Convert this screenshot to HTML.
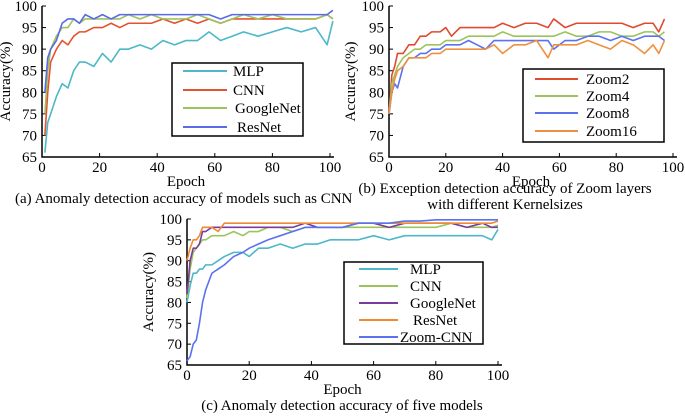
<!DOCTYPE html>
<html><head><meta charset="utf-8"><style>
html,body{margin:0;padding:0;background:#fff;}
svg{display:block;font-family:"Liberation Serif",serif;}
</style></head><body>
<svg id="fig" width="685" height="416" viewBox="0 0 685 416" xmlns="http://www.w3.org/2000/svg"></svg>
<script>
// ---------- Chart (a) data ----------
const aEpochs=[1,2,3,5,7,9,11,13,15,18,21,24,27,30,34,38,42,46,50,54,58,62,66,70,75,80,85,90,95,99,101];
const aMLP=[66,73,75,79,82,81,85,87,87,86,89,87,90,90,91,90,92,91,92,92,94,92,93,94,93,94,95,94,95,91,96.5];
const aCNN=[70,80,87,90,92,91,93,94,94,95,95,96,95,96,96,96,97,96,97,96,97,96,97,97,97,97,97,97,97,98,97];
const aGoogle=[75,85,90,93,95,95,97,96,97,97,97,97,97,98,97,98,97,97,97,98,97,96,97,98,97,98,97,97,97,98,97];
const aRes=[80,88,90,92,96,97,97,96,98,97,98,97,98,98,98,98,98,98,98,98,98,97,98,98,98,98,98,98,98,98,99];
// ---------- Chart (b) data ----------
const bEpochs=[0,1,2,3,5,7,9,11,13,15,18,20,22,25,28,31,34,37,40,44,48,52,56,58,62,66,70,74,78,82,86,90,93,95,97];
const bZoom2=[75,84,86,89,89,91,91,93,93,94,94,95,93,95,95,95,95,95,96,95,96,96,95,97,95,96,96,96,96,96,95,96,96,94,97];
const bZoom4=[75,82,84,86,88,89,90,90,91,91,91,92,92,92,93,93,93,93,94,93,93,93,93,93,94,93,93,94,94,93,93,94,94,93,94];
const bZoom8=[75,80,82,81,86,88,88,89,89,90,90,91,91,91,92,91,90,92,92,92,92,92,92,90,92,92,93,93,92,93,92,93,93,93,92];
const bZoom16=[75,80,83,85,86,88,88,88,88,89,89,90,90,90,90,90,90,91,89,91,91,92,88,91,91,91,92,91,90,92,91,89,91,89,92];
// ---------- Chart (c) data ----------
const cEpochs=[0,1,2,3,4,5,6,8,10,12,15,18,20,23,26,30,34,38,42,46,50,55,60,65,70,75,80,85,90,95,98,100];
const cMLP=[80,84,87,87,88,88,89,89,90,91,92,92,91,93,93,94,93,94,94,95,95,95,96,95,96,96,96,96,96,96,95,97.5];
const cCNN=[81,88,92,93,94,95,95,96,96,96,97,96,97,97,98,98,97,98,98,98,98,98,98,98,98,98,98,99,98,98,98,98.5];
const cGoogle=[82,90,93,93,94,97,97,98,98,98,98,98,98,98,98,98,98,99,98,98,98,99,99,98,99,99,99,99,98,99,98,98];
const cRes=[90,93,95,95,96,98,98,98,97,99,99,99,99,99,99,99,99,99,99,99,99,99,99,99,99,99,99,99,99,99,99,99.5];
const cZoom=[66,67,70,71,75,80,83,87,88,89,91,92,93,94,95,96,97,98,98,98,98,99,99,99,99.5,99.5,99.8,99.8,99.8,99.8,99.8,99.8];
const xTicks=[0,20,40,60,80,100];
const yTicks=[65,70,75,80,85,90,95,100];

const NS="http://www.w3.org/2000/svg";
const svg=document.getElementById('fig');
function mk(tag,attrs,parent){const e=document.createElementNS(NS,tag);for(const k in attrs)e.setAttribute(k,attrs[k]);(parent||svg).appendChild(e);return e;}

function chart(id,box,series,legend){
  const g=mk('g',{});
  
  
  const xs=v=>box.l+(v/100)*(box.r-box.l);
  const ys=v=>box.b-(v-65)/35*(box.b-box.t);
  // axes
  const ax=mk('path',{d:`M${box.l},${box.t}V${box.b}H${box.r+4}`,stroke:'#000','stroke-width':1.5,fill:'none'},g);
  
  
  yTicks.forEach(t=>{
    mk('line',{x1:box.l,x2:box.l+4,y1:ys(t),y2:ys(t),stroke:'#000'},g);
    const tx=mk('text',{x:box.l-5,y:ys(t)+5,'text-anchor':'end','font-size':15},g);
    tx.textContent=t;
    
    
  });
  xTicks.forEach(t=>{
    mk('line',{x1:xs(t),x2:xs(t),y1:box.b,y2:box.b-4,stroke:'#000'},g);
    const tx=mk('text',{x:xs(t),y:box.b+15,'text-anchor':'middle','font-size':15},g);
    tx.textContent=t;
    
    
  });
  const xl=mk('text',{x:(box.l+box.r)/2,y:box.b+29,'text-anchor':'middle','font-size':15},g);
  xl.textContent='Epoch';
  
  
  const yc=(box.t+box.b)/2;
  const yl=mk('text',{x:box.yl,y:yc,'text-anchor':'middle','font-size':15,transform:`rotate(-90 ${box.yl} ${yc})`},g);
  yl.textContent='Accuracy(%)';
  
  
  series.forEach(s=>{
    const p=mk('polyline',{points:s.x.map((v,i)=>xs(v)+','+ys(s.y[i])).join(' '),fill:'none',stroke:s.c,'stroke-width':1.6,'stroke-linejoin':'round'},g);
    
    
  });
  // legend
  const lb=mk('rect',{x:legend.x,y:legend.y,width:legend.w,height:legend.h,fill:'#fff',stroke:'#000','stroke-width':1.5},g);
  
  
  series.forEach((s,i)=>{
    const yy=legend.rows[i];
    const ln=mk('line',{x1:legend.lx1,x2:legend.lx2,y1:yy,y2:yy,stroke:s.c,'stroke-width':2},g);
    
    
    const t=mk('text',{x:legend.tx+(s.off||0),y:yy+5,'font-size':15},g);
    t.textContent=s.n;
    
    
  });
}

chart('chart-a',{l:42,r:330,t:6,b:157,yl:10},[
  {n:'MLP',x:aEpochs,y:aMLP,c:'#4cb8c8',off:0},
  {n:'CNN',x:aEpochs,y:aCNN,c:'#e2532f',off:0},
  {n:'GoogleNet',x:aEpochs,y:aGoogle,c:'#9dc35c',off:2},
  {n:'ResNet',x:aEpochs,y:aRes,c:'#5a6ae8',off:4}
],{x:172,y:63,w:131,h:73,lx1:183,lx2:227,tx:233,rows:[71,90,108,127]});

chart('chart-b',{l:389,r:673,t:6,b:157,yl:355},[
  {n:'Zoom2',x:bEpochs,y:bZoom2,c:'#e04a2f'},
  {n:'Zoom4',x:bEpochs,y:bZoom4,c:'#9dc35c'},
  {n:'Zoom8',x:bEpochs,y:bZoom8,c:'#5a72f0'},
  {n:'Zoom16',x:bEpochs,y:bZoom16,c:'#f08f40'}
],{x:523,y:69,w:141,h:73,lx1:535,lx2:578,tx:586,rows:[79,96,113,131]});

chart('chart-c',{l:187,r:498,t:219,b:365,yl:153},[
  {n:'MLP',x:cEpochs,y:cMLP,c:'#4cb8c8',off:0},
  {n:'CNN',x:cEpochs,y:cCNN,c:'#9dc35c',off:0},
  {n:'GoogleNet',x:cEpochs,y:cGoogle,c:'#7a3c9e',off:0},
  {n:'ResNet',x:cEpochs,y:cRes,c:'#f08a30',off:3},
  {n:'Zoom-CNN',x:cEpochs,y:cZoom,c:'#5a72f0',off:-10}
],{x:344,y:262,w:139,h:82,lx1:359,lx2:398,tx:410,rows:[269,286,303,320,337]});

function cap(txt,x,y,name,anchor){
  const t=mk('text',{x:x,y:y,'font-size':15,'text-anchor':anchor||'start'});
  t.textContent=txt;
  
  
}
cap('(a) Anomaly detection accuracy of models such as CNN',15,203,'caption-a');
cap('(b) Exception detection accuracy of Zoom layers',505,193,'caption-b','middle');
cap('with different Kernelsizes',505,209,'caption-b-line2','middle');
cap('(c) Anomaly detection accuracy of five models',342,410,'caption-c','middle');
</script>
</body></html>
